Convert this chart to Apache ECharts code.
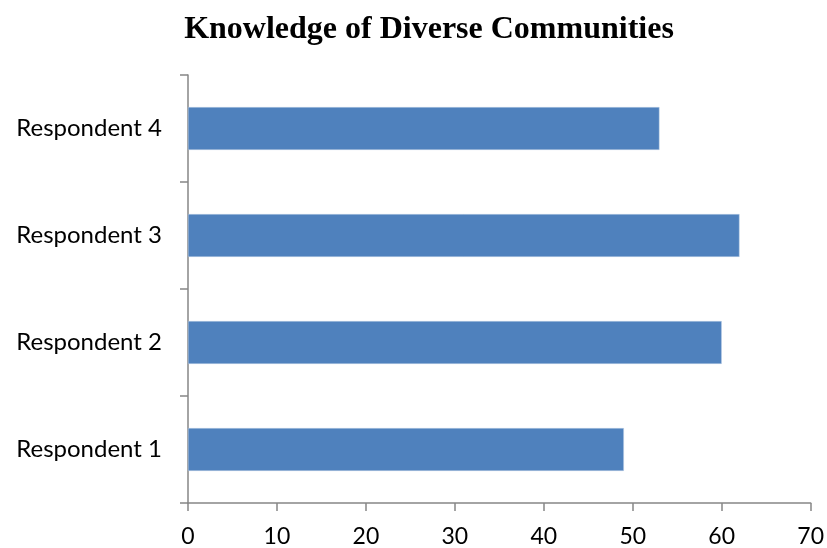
<!DOCTYPE html>
<html>
<head>
<meta charset="utf-8">
<script src="https://cdn.jsdelivr.net/npm/echarts@6/dist/echarts.min.js"></script>
<style>
html,body{margin:0;padding:0;background:#fff;}
#chart{width:827px;height:548px;}
</style>
</head>
<body>
<div id="chart"></div>
<script>
const title = "Knowledge of Diverse Communities";
const categories = ["Respondent 1", "Respondent 2", "Respondent 3", "Respondent 4"];
const values = [49, 60, 62, 53];
const xTicks = { min: 0, max: 70, interval: 10 };

const chart = echarts.init(document.getElementById('chart'), null, { renderer: 'canvas' });
const axisGray = '#868686';
const labelFont = 'Lato, "Open Sans", "Liberation Sans", sans-serif';
chart.setOption({
  animation: false,
  backgroundColor: '#ffffff',
  title: {
    text: title,
    left: 424,
    textAlign: 'center',
    top: 9,
    textStyle: {
      fontFamily: '"Liberation Serif", "DejaVu Serif", serif',
      fontWeight: 'bold',
      fontSize: 32,
      color: '#000'
    }
  },
  grid: { left: 188, right: 13.5, top: 75, bottom: 43, containLabel: false },
  xAxis: {
    type: 'value',
    min: xTicks.min,
    max: xTicks.max,
    interval: xTicks.interval,
    splitLine: { show: false },
    axisLine: { show: true, lineStyle: { color: axisGray, width: 1.5 } },
    axisTick: { show: true, length: 8, lineStyle: { color: axisGray, width: 1.5 } },
    axisLabel: {
      margin: 22,
      fontFamily: labelFont,
      fontSize: 23,
      color: '#000'
    }
  },
  yAxis: {
    type: 'category',
    data: categories,
    axisLine: { show: true, lineStyle: { color: axisGray, width: 1.5 } },
    axisTick: { show: true, length: 8, lineStyle: { color: axisGray, width: 1.5 } },
    axisLabel: {
      margin: 26,
      fontFamily: labelFont,
      fontSize: 24,
      color: '#000'
    }
  },
  series: [{
    type: 'bar',
    data: values,
    barCategoryGap: '60%',
    itemStyle: { color: '#4F81BD', borderColor: '#b9cde5', borderWidth: 0.5 }
  }]
});
</script>
</body>
</html>
